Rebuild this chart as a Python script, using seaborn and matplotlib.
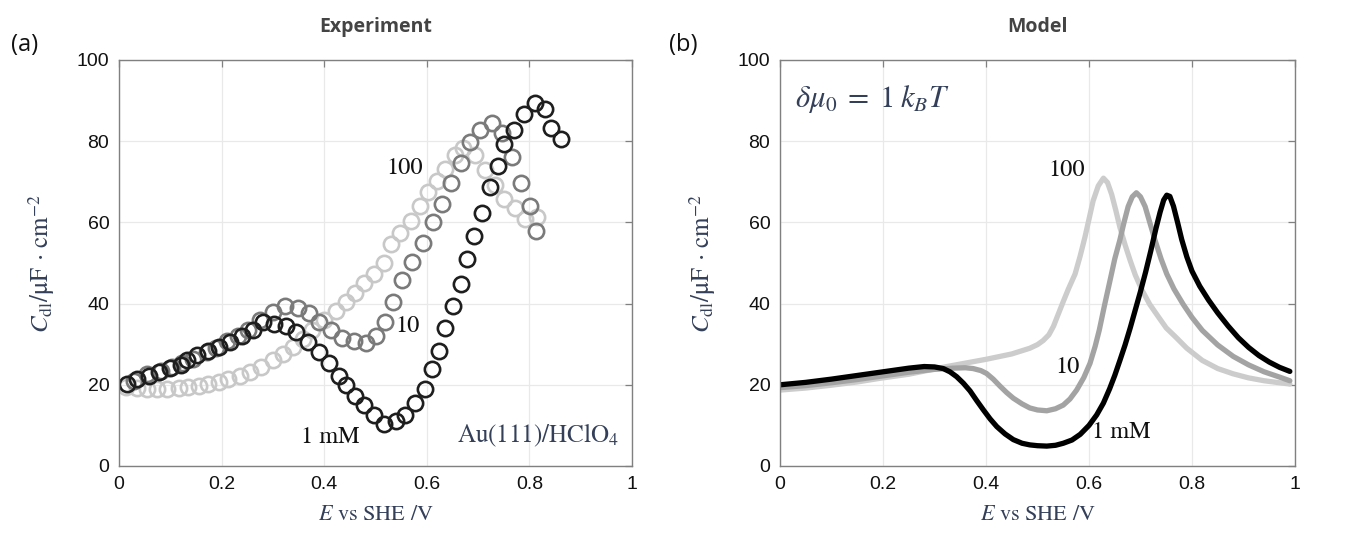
import numpy as np
import pandas as pd
import matplotlib
matplotlib.use("Agg")
import matplotlib.pyplot as plt
import seaborn as sns

# ---------------- data ----------------
# Experiment (panel a)
exp_1mM_x = [0.015,0.035,0.058,0.077,0.100,0.120,0.132,0.152,0.174,0.194,0.216,0.239,0.261,0.281,0.303,0.326,0.345,0.368,0.390,0.410,0.429,0.442,0.461,0.477,0.497,0.516,0.539,0.558,0.577,0.597,0.610,0.623,0.636,0.652,0.666,0.679,0.692,0.708,0.723,0.738,0.751,0.770,0.789,0.810,0.830,0.843,0.862]
exp_1mM_y = [20.3,21.4,22.2,23.1,24.1,25.0,26.0,27.4,28.3,29.4,30.5,31.9,33.4,35.5,35.0,34.6,33.0,30.5,28.0,25.3,22.2,20.0,17.3,15.0,12.6,10.4,11.1,12.6,15.4,18.9,23.8,28.3,34.1,39.4,44.8,50.9,56.7,62.4,68.6,73.9,79.3,82.7,86.7,89.5,87.9,83.2,80.5]

exp_10mM_x = [0.030,0.055,0.081,0.103,0.123,0.145,0.171,0.190,0.210,0.232,0.252,0.274,0.300,0.323,0.348,0.371,0.390,0.413,0.435,0.458,0.481,0.500,0.519,0.535,0.552,0.571,0.593,0.612,0.630,0.647,0.666,0.684,0.703,0.727,0.746,0.767,0.784,0.802,0.813]
exp_10mM_y = [21.0,22.6,23.5,24.5,25.3,26.4,28.0,29.1,30.9,32.1,33.4,36.0,37.9,39.3,39.0,37.7,35.5,33.4,31.6,30.9,30.2,32.1,35.5,40.4,45.8,50.3,55.0,60.0,64.5,69.8,74.7,79.9,82.7,84.4,82.1,76.1,69.8,64.1,57.9]

exp_100mM_x = [0.013,0.035,0.055,0.074,0.094,0.116,0.135,0.155,0.174,0.194,0.213,0.235,0.255,0.277,0.300,0.319,0.339,0.358,0.377,0.400,0.423,0.442,0.461,0.477,0.497,0.516,0.531,0.548,0.570,0.587,0.603,0.620,0.636,0.655,0.671,0.694,0.713,0.732,0.750,0.771,0.791,0.815]
exp_100mM_y = [19.5,19.2,18.9,18.9,18.9,19.2,19.5,19.8,20.2,20.6,21.4,22.2,23.1,24.5,26.0,27.6,29.4,31.3,33.4,35.9,38.3,40.4,42.5,45.0,47.4,49.9,54.6,57.5,60.4,64.1,67.4,70.2,73.1,76.6,78.3,76.6,72.9,69.2,65.8,63.5,60.8,61.3]

# Model (panel b)
mod_1mM_x = [0.00,0.05,0.10,0.15,0.20,0.25,0.28,0.30,0.317,0.33,0.343,0.356,0.369,0.382,0.395,0.408,0.421,0.437,0.453,0.47,0.485,0.50,0.518,0.535,0.55,0.567,0.583,0.60,0.615,0.628,0.64,0.65,0.66,0.67,0.68,0.69,0.70,0.71,0.72,0.73,0.738,0.745,0.751,0.757,0.764,0.772,0.78,0.79,0.80,0.815,0.832,0.85,0.87,0.89,0.91,0.93,0.95,0.97,0.99]
mod_1mM_y = [20.0,20.6,21.4,22.3,23.2,24.1,24.5,24.4,24.0,23.2,22.0,20.4,18.5,16.1,13.8,11.6,9.7,7.9,6.5,5.6,5.2,5.0,4.9,5.1,5.6,6.4,7.8,10.0,12.6,15.5,19.0,22.3,26.0,29.8,34.0,38.5,43.0,47.8,53.0,58.5,62.5,65.5,66.7,66.4,64.0,60.0,55.8,51.5,48.0,44.3,40.9,37.7,34.5,31.6,29.2,27.2,25.6,24.3,23.3]

mod_10mM_x = [0.00,0.05,0.10,0.15,0.20,0.25,0.30,0.337,0.36,0.375,0.39,0.401,0.414,0.427,0.44,0.453,0.47,0.485,0.50,0.518,0.535,0.55,0.563,0.576,0.59,0.602,0.612,0.62,0.63,0.641,0.65,0.66,0.668,0.676,0.684,0.692,0.70,0.709,0.718,0.728,0.74,0.751,0.765,0.783,0.80,0.82,0.85,0.88,0.91,0.94,0.97,0.99]
mod_10mM_y = [19.3,19.8,20.5,21.3,22.2,23.1,23.8,24.1,24.2,24.0,23.5,22.8,21.4,19.7,18.1,16.7,15.3,14.3,13.8,13.6,14.1,15.0,16.5,18.7,21.8,25.3,29.5,33.5,39.5,45.8,51.0,55.7,60.0,63.9,66.3,67.3,66.3,63.9,60.0,55.7,51.0,47.3,43.6,39.8,36.6,33.4,29.8,27.0,24.9,23.2,21.9,21.0]

mod_100mM_x = [0.00,0.05,0.10,0.15,0.194,0.25,0.324,0.401,0.45,0.485,0.50,0.511,0.522,0.531,0.54,0.55,0.56,0.573,0.583,0.592,0.60,0.608,0.618,0.628,0.636,0.644,0.652,0.66,0.67,0.68,0.69,0.703,0.718,0.735,0.75,0.768,0.79,0.82,0.85,0.88,0.91,0.94,0.97,0.99]
mod_100mM_y = [18.7,19.2,19.9,20.7,21.6,22.6,24.5,26.3,27.6,29.0,29.9,30.9,32.3,34.4,37.3,40.5,43.6,47.3,51.8,56.3,60.8,65.3,69.0,70.9,69.8,66.9,63.0,58.8,54.5,50.6,47.0,43.3,39.8,36.7,34.0,31.8,29.0,26.0,24.0,22.7,21.7,21.0,20.5,20.2]

ticks_x = [0, 0.2, 0.4, 0.6, 0.8, 1]
ticks_y = [0, 20, 40, 60, 80, 100]
tick_labels_x = ["0", "0.2", "0.4", "0.6", "0.8", "1"]

c_light, c_mid, c_dark = "#c8c8c8", "#7a7a7a", "#1e1e1e"
c_line_light, c_line_mid, c_line_dark = "#cccccc", "#a3a3a3", "#000000"
label_color = "#34405a"

# ---------------- figure ----------------
sns.set_theme(style="white")
plt.rcParams["font.family"] = ["Liberation Sans", "DejaVu Sans"]
plt.rcParams["mathtext.fontset"] = "stix"

fig = plt.figure(figsize=(13.6, 5.57), dpi=100)
axA = fig.add_axes([119/1360, 91/557, 513/1360, 406/557])
axB = fig.add_axes([780/1360, 91/557, 515/1360, 406/557])

# panel a: hollow circles
for xs, ys, c in [(exp_100mM_x, exp_100mM_y, c_light),
                  (exp_10mM_x, exp_10mM_y, c_mid),
                  (exp_1mM_x, exp_1mM_y, c_dark)]:
    df = pd.DataFrame({"E": xs, "C": ys})
    sns.lineplot(data=df, x="E", y="C", ax=axA, sort=False, estimator=None,
                 linestyle="", marker="o", markersize=11,
                 markerfacecolor="none", markeredgecolor=c,
                 markeredgewidth=1.9, color=c)

# panel b: thick lines
for xs, ys, c in [(mod_100mM_x, mod_100mM_y, c_line_light),
                  (mod_10mM_x, mod_10mM_y, c_line_mid),
                  (mod_1mM_x, mod_1mM_y, c_line_dark)]:
    df = pd.DataFrame({"E": xs, "C": ys})
    sns.lineplot(data=df, x="E", y="C", ax=axB, sort=False, estimator=None,
                 color=c, linewidth=3.8)

serif = "STIXGeneral"
for ax, title in [(axA, "Experiment"), (axB, "Model")]:
    ax.set_xlim(0, 1)
    ax.set_ylim(0, 100)
    ax.set_xticks(ticks_x)
    ax.set_xticklabels(tick_labels_x)
    ax.set_yticks(ticks_y)
    ax.grid(True, color="#e9e9e9", linewidth=0.9)
    ax.set_axisbelow(True)
    for s in ax.spines.values():
        s.set_color("#808080")
        s.set_linewidth(1.0)
        s.set_visible(True)
    ax.tick_params(axis="both", direction="in", length=5, width=0.9,
                   color="#808080", labelsize=14, labelcolor="#111111",
                   top=True, right=True, pad=7)
    ax.set_xlabel(r"$E$ vs SHE /V", fontfamily=serif, fontsize=16,
                  color=label_color, labelpad=9)
    ax.set_ylabel(r"$C_{\mathrm{dl}}/\mathrm{\mu F}\,\cdot\,\mathrm{cm}^{-2}$",
                  fontsize=18, color=label_color, labelpad=14)
    ax.set_title(title, fontsize=14, fontweight="bold", color="#444444",
                 fontfamily=["Open Sans", "DejaVu Sans"], pad=20)

ann = dict(ha="center", va="center", fontfamily=serif, fontsize=17.5, color="#111111")
# annotations panel a
axA.text(0.557, 73.4, "100", **ann)
axA.text(0.563, 34.5, "10", **ann)
axA.text(0.411, 7.1, "1 mM", **ann)
axA.text(0.975, 7.6, r"Au(111)/HClO$_4$", ha="right", va="center", fontfamily=serif,
         fontsize=18, color=label_color)

# annotations panel b
axB.text(0.557, 72.9, "100", **ann)
axB.text(0.559, 24.4, "10", **ann)
axB.text(0.662, 8.4, "1 mM", **ann)
axB.text(0.03, 90.5, r"$\delta\mu_0\;=\;1\;k_BT$", ha="left", va="center",
         fontsize=22, color=label_color)

# panel letters
fig.text(25/1360, 1 - 45/557, "(a)", ha="center", va="center", fontsize=17,
         fontfamily=["Open Sans", "DejaVu Sans"], color="#111111")
fig.text(683/1360, 1 - 45/557, "(b)", ha="center", va="center", fontsize=17,
         fontfamily=["Open Sans", "DejaVu Sans"], color="#111111")

fig.savefig("out.png", dpi=100, facecolor="white")
